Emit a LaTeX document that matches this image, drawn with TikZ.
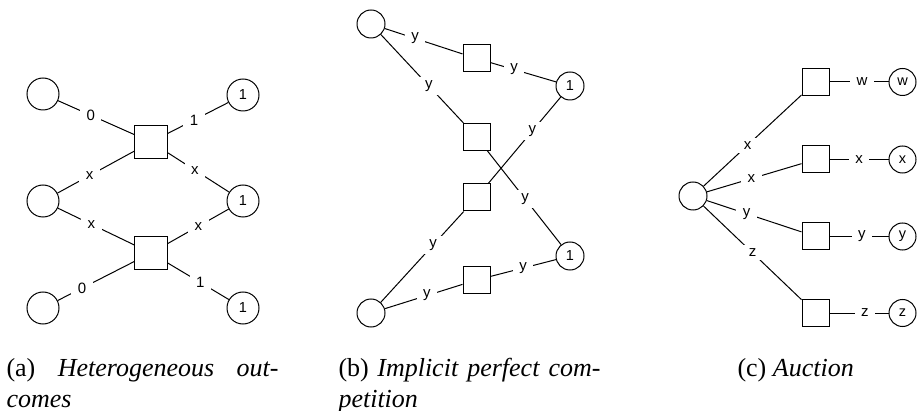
\documentclass[tikz,border=0pt]{standalone}
\usepackage{fontspec}
\setmainfont{Liberation Serif}
\newfontfamily\lblfont{Liberation Sans}
\begin{document}
\begin{tikzpicture}[x=1pt,y=-1pt,line width=1pt,
  circA/.style={circle,draw,minimum size=32pt,inner sep=0pt,font=\lblfont\fontsize{14.5}{14.5}\selectfont},
  circB/.style={circle,draw,minimum size=28pt,inner sep=0pt,font=\lblfont\fontsize{14.5}{14.5}\selectfont},
  sqA/.style={rectangle,draw,minimum size=33pt,inner sep=0pt},
  sqB/.style={rectangle,draw,minimum size=27pt,inner sep=0pt},
  lbl/.style={fill=white,inner xsep=6.5pt,inner ysep=3.5pt,font=\lblfont\fontsize{15}{15}\selectfont},
  captxt/.style={anchor=base west,inner sep=0pt,font=\fontsize{26}{31}\selectfont}]
\useasboundingbox (0,0) rectangle (917,411);

% ---------- (a) ----------
\node[circA] (aL1) at (43,94) {};
\node[circA] (aL2) at (43,201) {};
\node[circA] (aL3) at (43,308) {};
\node[circA] (aR1) at (243,95) {1};
\node[circA] (aR2) at (243,201) {1};
\node[circA] (aR3) at (243,308) {1};
\node[sqA] (aS1) at (151,142) {};
\node[sqA] (aS2) at (151,253) {};
\draw (aL1) -- node[lbl,pos=0.43]{0} (aS1);
\draw (aL2) -- node[lbl,pos=0.42]{x} (aS1);
\draw (aL2) -- node[lbl,pos=0.44]{x} (aS2);
\draw (aL3) -- node[lbl,pos=0.32]{0} (aS2);
\draw (aS1) -- node[lbl,pos=0.43]{1} (aR1);
\draw (aS1) -- node[lbl,pos=0.44]{x} (aR2);
\draw (aS2) -- node[lbl,pos=0.50]{x} (aR2);
\draw (aS2) -- node[lbl,pos=0.53]{1} (aR3);

% ---------- (b) ----------
\node[circB] (bL1) at (371,24) {};
\node[circB] (bL2) at (371,313) {};
\node[circB] (bR1) at (570,86) {1};
\node[circB] (bR2) at (570,256) {1};
\node[sqB] (bS1) at (476.5,58.5) {};
\node[sqB] (bS2) at (476.5,137) {};
\node[sqB] (bS3) at (476.5,197.5) {};
\node[sqB] (bS4) at (476.5,280) {};
\draw (bL1) -- node[lbl,pos=0.39]{y} (bS1);
\draw (bL1) -- node[lbl,pos=0.58]{y} (bS2);
\draw (bS1) -- node[lbl,pos=0.36]{y} (bR1);
\draw (bS3) -- node[lbl,pos=0.61]{y} (bR1);
\draw (bS2) -- node[lbl,pos=0.51]{y} (bR2);
\draw (bL2) -- node[lbl,pos=0.63]{y} (bS3);
\draw (bL2) -- node[lbl,pos=0.54]{y} (bS4);
\draw (bS4) -- node[lbl,pos=0.50]{y} (bR2);

% ---------- (c) ----------
\node[circB] (cC) at (693,196) {};
\node[sqB] (cSw) at (815.5,82) {};
\node[sqB] (cSx) at (815.5,159.5) {};
\node[sqB] (cSy) at (815.5,236.5) {};
\node[sqB] (cSz) at (815.5,313) {};
\node[circB,minimum size=27pt] (cRw) at (902.5,82) {w};
\node[circB,minimum size=27pt] (cRx) at (902.5,159.5) {x};
\node[circB,minimum size=27pt] (cRy) at (902.5,236.5) {y};
\node[circB,minimum size=27pt] (cRz) at (902.5,313) {z};
\draw (cC) -- node[lbl,pos=0.45]{x} (cSw);
\draw (cC) -- node[lbl,pos=0.47]{x} (cSx);
\draw (cC) -- node[lbl,pos=0.42]{y} (cSy);
\draw (cC) -- node[lbl,pos=0.50]{z} (cSz);
\draw (cSw) -- node[lbl,pos=0.55]{w} (cRw);
\draw (cSx) -- node[lbl,pos=0.50]{x} (cRx);
\draw (cSy) -- node[lbl,pos=0.55]{y} (cRy);
\draw (cSz) -- node[lbl,pos=0.60]{z} (cRz);

% ---------- captions ----------
\node[captxt] (capa1) at (6,376) {\makebox[272pt][s]{(a) \textit{Heterogeneous} \textit{out-}}};
\node[captxt] (capa2) at (6,407) {\textit{comes}};
\node[captxt] (capb1) at (338,376) {\makebox[262pt][s]{(b) \textit{Implicit} \textit{perfect} \textit{com-}}};
\node[captxt] (capb2) at (338,407) {\textit{petition}};
\node[captxt] (capc) at (737,376) {(c) \textit{Auction}};
\end{tikzpicture}
\end{document}
